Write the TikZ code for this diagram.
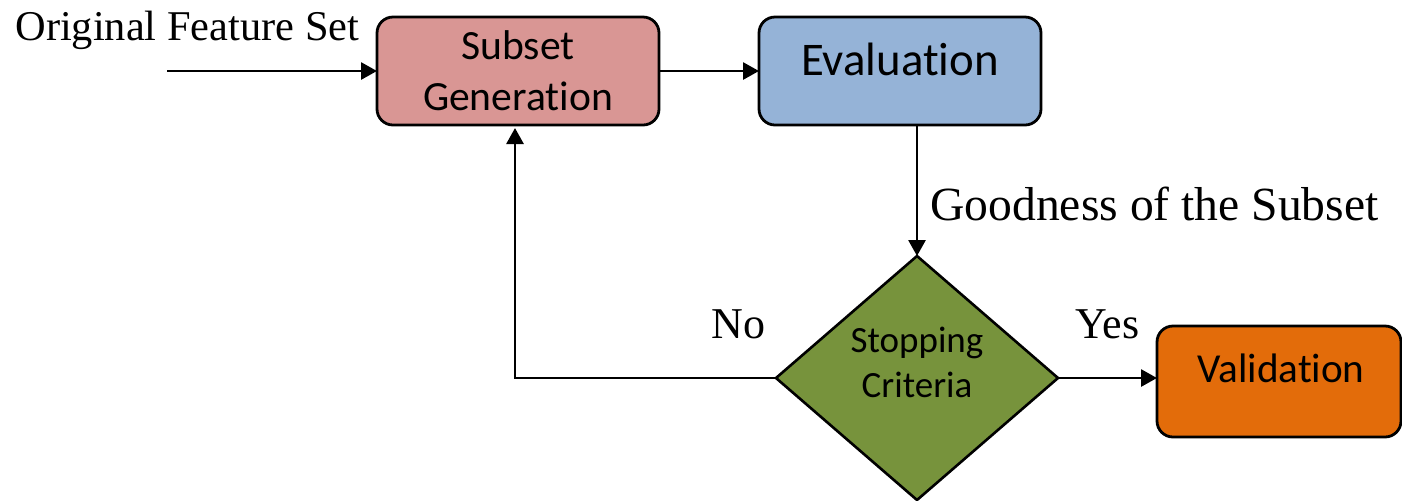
\documentclass[tikz,border=0pt]{standalone}
\usepackage{fontspec}
\setmainfont{Liberation Serif}
\newfontfamily\calibri[Ligatures={NoCommon}]{Carlito}
\usetikzlibrary{arrows.meta,shapes.geometric}

\definecolor{genpink}{HTML}{D99694}
\definecolor{evalblue}{HTML}{95B3D7}
\definecolor{stopgreen}{HTML}{77933C}
\definecolor{valorange}{HTML}{E36C0A}

\tikzset{
  block/.style={draw=black, line width=1.4pt, rounded corners=8pt, inner sep=0pt, outer sep=0pt},
  decision/.style={draw=black, line width=1.3pt, diamond, inner sep=0pt, outer sep=0pt,
                   minimum width=141pt, minimum height=122pt},
  flow/.style={line width=1.4pt, -{Triangle[length=8pt,width=8.5pt]}},
  serif/.style={inner sep=0pt, font=\fontsize{21.2}{25}\selectfont},
  boxtext/.style={inner sep=0pt, anchor=base},
}

\begin{document}
\begin{tikzpicture}[x=0.5pt, y=-0.5pt]
  \useasboundingbox (0,0) rectangle (1402,500);

  % process blocks
  \node[block, fill=genpink, minimum width=141pt, minimum height=54pt] (gen) at (518,71) {};
  \node[block, fill=evalblue, minimum width=141pt, minimum height=54pt] (eval) at (900,71) {};
  \node[decision, fill=stopgreen] (stop) at (917,378) {};
  \node[block, fill=valorange, minimum width=122pt, minimum height=55.5pt] (val) at (1279,381.5) {};

  % block captions
  \node[boxtext, font=\calibri\fontsize{20.8}{25}\selectfont] (genA) at (518,59) {Subset};
  \node[boxtext, font=\calibri\fontsize{20.8}{25}\selectfont] (genB) at (518,110) {Generation};
  \node[boxtext, font=\calibri\fontsize{23.4}{28}\selectfont] (evalT) at (900,75) {Evaluation};
  \node[boxtext, font=\calibri\fontsize{18.5}{22}\selectfont] (stopA) at (917,352) {Stopping};
  \node[boxtext, font=\calibri\fontsize{18.5}{22}\selectfont] (stopB) at (917,397) {Criteria};
  \node[boxtext, font=\calibri\fontsize{20.6}{25}\selectfont] (valT) at (1281,382) {Validation};

  % free-standing labels
  \node[serif, anchor=base west] (orig) at (15,40) {Original Feature Set};
  \node[serif, anchor=base west, font=\fontsize{23.8}{28}\selectfont] (good) at (930,220) {Goodness of the Subset};
  \node[serif, anchor=base west, font=\fontsize{22}{26}\selectfont] (no) at (711,338) {No};
  \node[serif, anchor=base west, font=\fontsize{22}{26}\selectfont] (yes) at (1075,338) {Yes};

  % connectors
  \coordinate (input) at (167,71);
  \coordinate (loop) at (515,378);
  \draw[flow] (input) -- (gen.west);
  \draw[flow] (gen.east) -- (eval.west);
  \draw[flow] (eval.south -| stop.north) -- (stop.north);
  \draw[flow] (stop.west) -- (loop) -- ([yshift=-1.5pt]loop |- gen.south);
  \draw[flow] (stop.east) -- (stop.east -| val.west);
\end{tikzpicture}
\end{document}
